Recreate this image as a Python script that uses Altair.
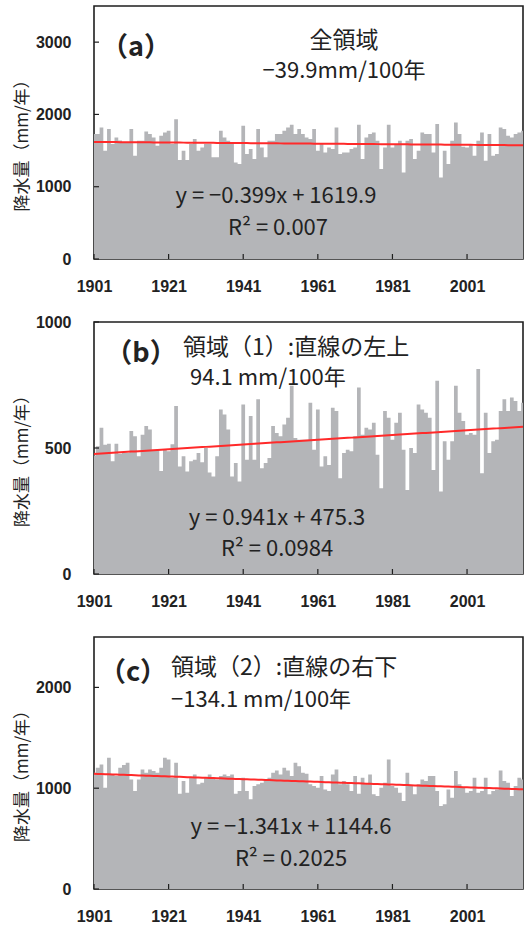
import altair as alt
import pandas as pd

# ---------------- data ----------------
YEARS = list(range(1901, 2017))

PRECIP_A = [1728, 1728, 1820, 1498, 1797, 1590, 1682, 1640, 1613, 1613,
            1797, 1429, 1636, 1636, 1765, 1728, 1682, 1567, 1705, 1751,
            1774, 1590, 1935, 1369, 1498, 1369, 1590, 1659, 1498, 1544,
            1590, 1590, 1406, 1406, 1774, 1682, 1636, 1590, 1336, 1313,
            1843, 1452, 1521, 1382, 1797, 1544, 1406, 1636, 1636, 1728,
            1728, 1774, 1820, 1857, 1728, 1797, 1728, 1682, 1659, 1797,
            1498, 1590, 1475, 1544, 1521, 1820, 1452, 1475, 1475, 1521,
            1544, 1857, 1382, 1682, 1728, 1751, 1636, 1244, 1544, 1857,
            1544, 1590, 1636, 1198, 1636, 1659, 1382, 1498, 1751, 1728,
            1728, 1475, 1866, 1129, 1498, 1313, 1636, 1889, 1728, 1553,
            1544, 1590, 1429, 1636, 1751, 1359, 1728, 1429, 1452, 1820,
            1797, 1705, 1682, 1728, 1751, 1774]

PRECIP_B = [470, 507, 580, 513, 517, 447, 517, 477, 480, 480,
            567, 547, 467, 553, 587, 573, 493, 493, 409, 493,
            487, 515, 667, 427, 467, 407, 447, 453, 480, 443,
            500, 403, 387, 467, 653, 633, 573, 387, 440, 367,
            673, 453, 627, 453, 693, 420, 440, 460, 587, 560,
            547, 593, 620, 747, 540, 533, 533,
            533, 680, 493, 653, 427, 467, 433, 660, 647, 380, 480, 493, 487, 547,
            740, 553, 580, 573, 600, 473, 340, 647, 620, 533,
            600, 640, 493, 333, 500, 480, 673, 653, 640, 620,
            413, 767, 327, 527, 453, 527, 747, 640, 607, 553,
            560, 553, 813, 400, 640, 480, 527, 533, 647, 693,
            647, 700, 687, 647, 680]

PRECIP_C = [1153, 1203, 1236, 1005, 1301, 1137, 1120,
            1203, 1229, 1252, 1087, 972, 1087, 1186, 1153, 1186, 1170,
            1153, 1203, 1301, 1285, 1104, 1252, 946, 1071, 955, 1104, 1137, 1038,
            1054, 1104, 1137, 1104, 1087, 1120, 1137,
            1120, 1137, 946, 972, 1104, 972, 890, 1021, 1038, 1054, 1087, 1104,
            1153, 1176, 1137,
            1203, 1176, 1120, 1252, 1219, 1153,
            1143, 1038, 1021, 1005, 1120, 988, 972, 1137, 1186, 1038,
            1071, 1038, 972, 1120, 946, 1104, 1038, 1137,
            939, 923, 1005, 1054, 1285, 1021, 1005, 955, 873, 1153, 1021, 939,
            1038, 1087, 1071, 1120,
            1120, 972, 824, 840, 988, 906, 1170, 1038, 1005, 955,
            972, 1104, 955, 972, 1104, 939,
            972, 988, 1176, 1071, 1054, 923, 1021, 1104, 1087]

# regression coefficients printed on the chart (x = years since 1900)
TREND_A = (-0.399, 1619.9)
TREND_B = (0.941, 475.3)
TREND_C = (-1.341, 1144.6)

X_TICKS = [1901, 1921, 1941, 1961, 1981, 2001]
Y_TICKS_A = [0, 1000, 2000, 3000]
Y_TICKS_B = [0, 500, 1000]
Y_TICKS_C = [0, 1000, 2000]
Y_MAX_A, Y_MAX_B, Y_MAX_C = 3500, 1000, 2500

# ---------------- styles ----------------
W = 429
GRAY = "#b4b5b8"
RED = "#ff2a2a"
INK = "#222222"
FRAME = "#1e1e1e"
JP = "Noto Sans CJK JP"
NUM = "Liberation Sans"


def panel(values, trend, ymax, yticks, height, texts, anchor=False):
    df = pd.DataFrame({"year": YEARS, "precip": values})
    df["zero"] = 0
    df["trend"] = trend[0] * (df["year"] - 1900) + trend[1]

    xscale = alt.Scale(domain=[1901, 2016], nice=False, zero=False)
    yscale = alt.Scale(domain=[0, ymax], nice=False)
    xax = alt.Axis(values=X_TICKS, format="d", ticks=False, tickSize=0, domain=False,
                   grid=False, labelPadding=19, labelFont=NUM, labelFontSize=16,
                   labelFontWeight="bold", labelColor=INK, labelFlush=False,
                   labelOverlap=False, title=None)
    yax = alt.Axis(values=yticks, format="d", ticks=False, tickSize=0, domain=False,
                   grid=False, labelPadding=23, labelFont=NUM, labelFontSize=16,
                   labelFontWeight="bold", labelColor=INK, labelFlush=False,
                   labelOverlap=False, title=None)

    # contiguous bars (gap width 0), one step per year centred on the year
    bars = alt.Chart(df).mark_area(color=GRAY, interpolate="step", clip=True).encode(
        x=alt.X("year:Q", scale=xscale, axis=xax),
        y=alt.Y("precip:Q", scale=yscale, axis=yax),
        y2="zero:Q",
    )

    line = alt.Chart(df).mark_line(color=RED, strokeWidth=2, clip=True).encode(
        x=alt.X("year:Q", scale=xscale, axis=xax),
        y=alt.Y("trend:Q", scale=yscale, axis=yax),
    )

    xt = alt.Chart(pd.DataFrame({"t": X_TICKS})).mark_rule(color=FRAME, strokeWidth=1.2).encode(
        x=alt.X("t:Q", scale=xscale, axis=xax),
        y=alt.value(height),
        y2=alt.value(height - 5),
    )
    yt = alt.Chart(pd.DataFrame({"v": yticks})).mark_rule(color=FRAME, strokeWidth=1.2).encode(
        y=alt.Y("v:Q", scale=yscale, axis=yax),
        x=alt.value(0),
        x2=alt.value(5),
    )

    layers = [bars, line, xt, yt]

    dummy = pd.DataFrame({"a": [0]})
    ytitle = alt.Chart(dummy).mark_text(
        font=JP, fontSize=17, color=INK, angle=270, align="center", baseline="middle"
    ).encode(x=alt.value(-71), y=alt.value(height / 2 + 9), text=alt.value("降水量（mm/年）"))
    layers.append(ytitle)

    for (txt, tx, ty, al, fs, fw) in texts:
        layers.append(
            alt.Chart(dummy).mark_text(
                font=JP, fontSize=fs, fontWeight=fw, color=INK, align=al, baseline="middle"
            ).encode(x=alt.value(tx), y=alt.value(ty), text=alt.value(txt))
        )

    if anchor:
        layers.append(
            alt.Chart(dummy).mark_rule(opacity=0, strokeWidth=0).encode(
                x=alt.value(-93), x2=alt.value(-92), y=alt.value(-5)
            )
        )

    return alt.layer(*layers).properties(width=W, height=height)


TEXT_A = [
    ("（a）", 42, 42, "center", 27, "bold"),
    ("全領域", 250, 35, "center", 23, "normal"),
    ("−39.9mm/100年", 250, 65, "center", 22, "normal"),
    ("y = −0.399x + 1619.9", 182, 190, "center", 22, "normal"),
    ("R² = 0.007", 184, 222, "center", 22, "normal"),
]
TEXT_B = [
    ("（b）", 47, 32, "center", 27, "bold"),
    ("領域（1）:直線の左上", 89, 26, "left", 23, "normal"),
    ("94.1 mm/100年", 96, 56, "left", 22, "normal"),
    ("y = 0.941x + 475.3", 183, 196, "center", 22, "normal"),
    ("R² = 0.0984", 183, 227, "center", 22, "normal"),
]
TEXT_C = [
    ("（c）", 39, 36, "center", 27, "bold"),
    ("領域（2）:直線の右下", 77, 31, "left", 23, "normal"),
    ("−134.1 mm/100年", 77, 63, "left", 22, "normal"),
    ("y = −1.341x + 1144.6", 197, 190, "center", 22, "normal"),
    ("R² = 0.2025", 197, 222, "center", 22, "normal"),
]

pa = panel(PRECIP_A, TREND_A, Y_MAX_A, Y_TICKS_A, 253, TEXT_A, anchor=True)
pb = panel(PRECIP_B, TREND_B, Y_MAX_B, Y_TICKS_B, 252, TEXT_B)
pc = panel(PRECIP_C, TREND_C, Y_MAX_C, Y_TICKS_C, 252, TEXT_C)

chart = alt.vconcat(pa, pb, pc, spacing=63, bounds="flush").properties(
    padding=0, background="white"
).configure_view(stroke=FRAME, strokeWidth=1.6)

chart.save("out.html", embed_options={"renderer": "svg", "actions": False})
